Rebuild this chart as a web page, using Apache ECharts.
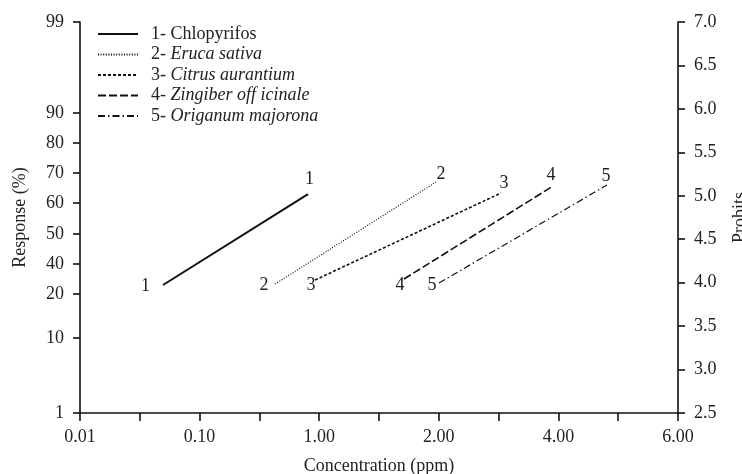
<!DOCTYPE html>
<html>
<head>
<meta charset="utf-8">
<script src="https://cdn.jsdelivr.net/npm/echarts@6/dist/echarts.min.js"></script>
<style>
html,body{margin:0;padding:0;background:#fff;}
#chart{width:742px;height:474px;}
</style>
</head>
<body>
<div id="chart"></div>
<script>
// X axis: equally spaced positions (half-step units), labelled every 2 steps
var xTickLabels = ['0.01', '0.10', '1.00', '2.00', '4.00', '6.00'];
// Left axis (Response %) labels and their positions on the probit scale
var leftTickLabels = ['1', '10', '20', '40', '50', '60', '70', '80', '90', '99'];
var leftTickPos    = [2.5, 3.363, 3.869, 4.215, 4.560, 4.917, 5.262, 5.607, 5.952, 7.0];
// Series
var seriesNums   = ['1', '2', '3', '4', '5'];
var seriesNames  = ['Chlopyrifos', 'Eruca sativa', 'Citrus aurantium', 'Zingiber off icinale', 'Origanum majorona'];
var seriesItalic = [false, true, true, true, true];
// Line endpoints [x (axis position), probit]
var s1 = [[1.388, 3.973], [3.813, 5.020]];
var s2 = [[3.261, 3.984], [5.953, 5.158]];
var s3 = [[3.930, 4.030], [7.040, 5.032]];
var s4 = [[5.418, 4.042], [7.910, 5.112]];
var s5 = [[6.003, 3.996], [8.813, 5.124]];
var seriesData = [s1, s2, s3, s4, s5];

var lineStyles = [
  {type: 'solid', width: 2},
  {type: [1, 1.6], width: 1.2},
  {type: [3, 2], width: 1.6},
  {type: [8, 3], width: 1.6},
  {type: [7, 3, 1.5, 3], width: 1.2}
];
var startOffsets = [[-17.5, 1], [-11, 1], [-4, 5], [-4, 6], [-7, 2]];
var endOffsets   = [[1.5, -15], [5, -8], [3, -10], [-2, -11], [-1, -9]];

var FONT = '"Liberation Serif", "DejaVu Serif", serif';
var FS = 18;
var chart = echarts.init(document.getElementById('chart'));

var series = seriesData.map(function (d, i) {
  var legendName = seriesNums[i] + '- ' + seriesNames[i];
  return {
    name: legendName,
    type: 'line',
    yAxisIndex: 1,
    symbol: 'circle',
    symbolSize: 0.1,
    showSymbol: true,
    silent: true,
    animation: false,
    itemStyle: {color: '#111'},
    lineStyle: Object.assign({color: '#111'}, lineStyles[i]),
    data: d.map(function (p, j) {
      return {
        value: p,
        label: {
          show: true,
          position: 'inside',
          offset: j === 0 ? startOffsets[i] : endOffsets[i],
          formatter: seriesNums[i],
          color: '#222',
          fontFamily: FONT,
          fontSize: FS
        }
      };
    })
  };
});

var axisLineStyle = {color: '#111', width: 1.6};

chart.setOption({
  animation: false,
  backgroundColor: '#fff',
  grid: {left: 80, right: 64, top: 22, bottom: 61, containLabel: false, outerBoundsMode: 'none'},
  legend: {
    orient: 'vertical',
    left: 92,
    top: 20,
    itemWidth: 40,
    itemHeight: 14,
    itemGap: 2.5,
    selectedMode: false,
    itemStyle: {opacity: 0},
    data: series.map(function (s) { return s.name; }),
    formatter: function (name) {
      var idx = series.findIndex(function (s) { return s.name === name; });
      if (seriesItalic[idx]) {
        return seriesNums[idx] + '- {i|' + seriesNames[idx] + '}';
      }
      return name;
    },
    textStyle: {
      fontFamily: FONT,
      fontSize: FS,
      color: '#222',
      padding: [0, 0, 0, 8],
      rich: {
        i: {fontFamily: FONT, fontSize: FS, fontStyle: 'italic', color: '#222'}
      }
    }
  },
  xAxis: {
    type: 'value',
    min: 0,
    max: 10,
    interval: 1,
    name: 'Concentration (ppm)',
    nameLocation: 'middle',
    nameGap: 44,
    nameTextStyle: {fontFamily: FONT, fontSize: FS, color: '#222'},
    axisLine: {show: true, onZero: false, lineStyle: axisLineStyle},
    axisTick: {show: true, length: 8, inside: false, lineStyle: axisLineStyle},
    splitLine: {show: false},
    axisLabel: {
      fontFamily: FONT,
      fontSize: FS,
      color: '#222',
      margin: 15,
      formatter: function (v) {
        return (v % 2 === 0) ? xTickLabels[v / 2] : '';
      }
    }
  },
  yAxis: [
    {
      type: 'value',
      position: 'left',
      min: 2.5,
      max: 7,
      name: 'Response (%)',
      nameLocation: 'middle',
      nameGap: 51,
      nameRotate: 90,
      nameTextStyle: {fontFamily: FONT, fontSize: FS, color: '#222'},
      axisLine: {show: true, lineStyle: axisLineStyle},
      axisTick: {show: true, length: 7, customValues: leftTickPos, lineStyle: axisLineStyle},
      splitLine: {show: false},
      axisLabel: {
        fontFamily: FONT,
        fontSize: FS,
        color: '#222',
        margin: 16,
        customValues: leftTickPos,
        formatter: function (v) {
          var k = leftTickPos.indexOf(v);
          return k >= 0 ? leftTickLabels[k] : '';
        }
      }
    },
    {
      type: 'value',
      position: 'right',
      min: 2.5,
      max: 7,
      interval: 0.5,
      name: 'Probits',
      nameLocation: 'middle',
      nameGap: 53,
      nameRotate: 90,
      nameTextStyle: {fontFamily: FONT, fontSize: FS, color: '#222'},
      axisLine: {show: true, lineStyle: axisLineStyle},
      axisTick: {show: true, length: 7, lineStyle: axisLineStyle},
      splitLine: {show: false},
      axisLabel: {
        fontFamily: FONT,
        fontSize: FS,
        color: '#222',
        margin: 16,
        formatter: function (v) { return v.toFixed(1); }
      }
    }
  ],
  series: series
});
</script>
</body>
</html>
